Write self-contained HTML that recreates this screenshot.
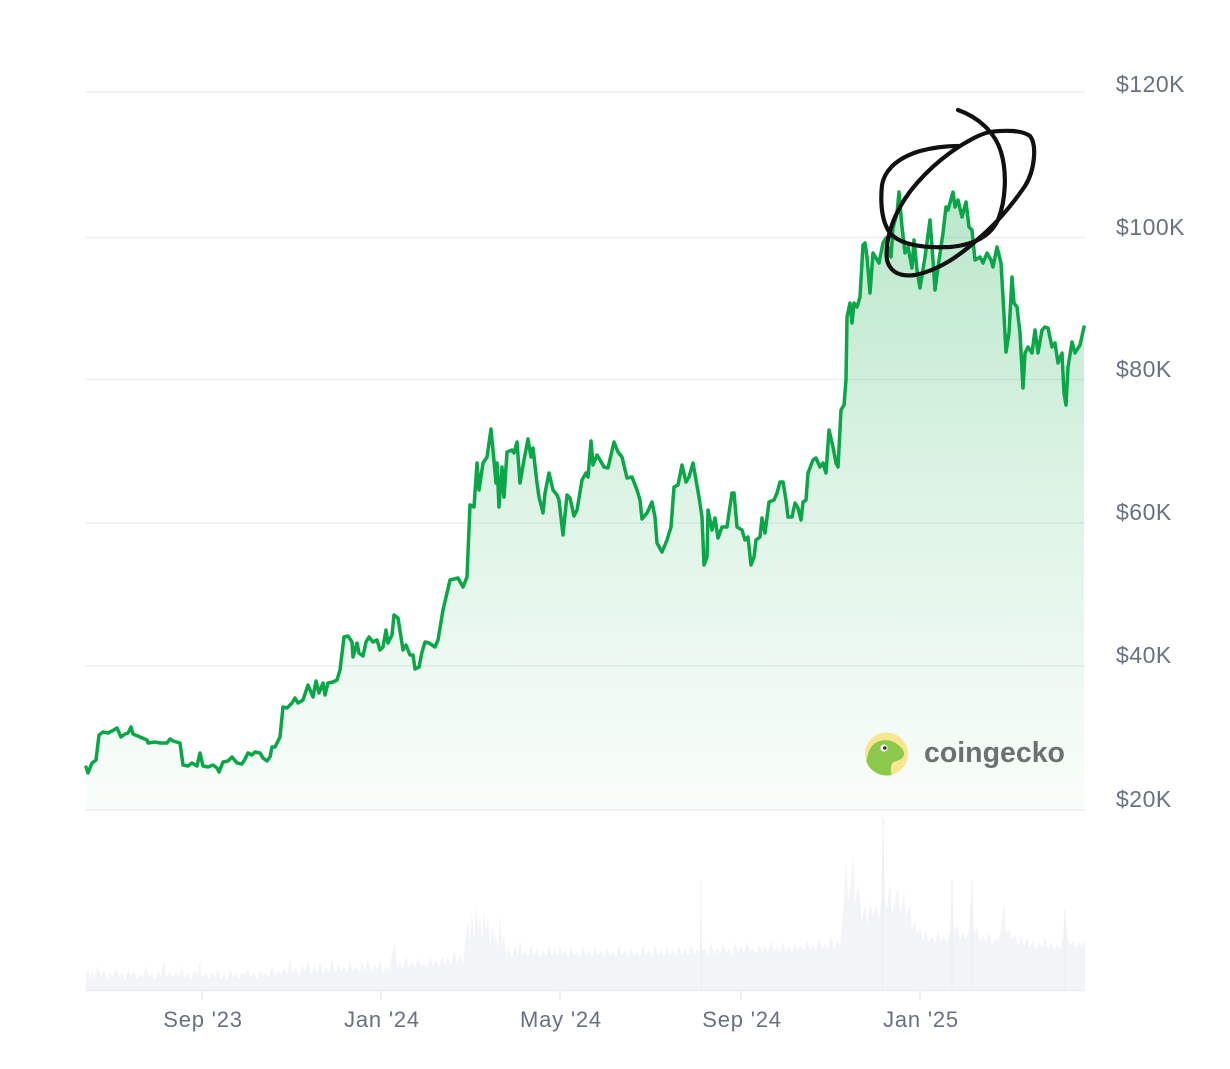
<!DOCTYPE html>
<html>
<head>
<meta charset="utf-8">
<style>
html,body{margin:0;padding:0;background:#ffffff;}
body{width:1230px;height:1069px;overflow:hidden;}
svg{display:block;}
.yl{font-family:"Liberation Sans",Arial,sans-serif;font-size:23px;fill:#687083;letter-spacing:0.5px;}
.xl{font-family:"Liberation Sans",Arial,sans-serif;font-size:22px;fill:#687083;letter-spacing:0.8px;}
</style>
</head>
<body>
<svg width="1230" height="1069" viewBox="0 0 1230 1069" xmlns="http://www.w3.org/2000/svg">
<defs>
<linearGradient id="g" x1="0" y1="190" x2="0" y2="810" gradientUnits="userSpaceOnUse">
<stop offset="0" stop-color="#00a83e" stop-opacity="0.27"/>
<stop offset="0.5" stop-color="#00a83e" stop-opacity="0.13"/>
<stop offset="1" stop-color="#00a83e" stop-opacity="0.02"/>
</linearGradient>
<clipPath id="cc"><circle cx="886.5" cy="754" r="21.5"/></clipPath>
</defs>

<!-- gridlines -->
<g stroke="#eeeff1" stroke-width="1.6">
<line x1="85" y1="92" x2="1085" y2="92"/>
<line x1="85" y1="237.5" x2="1085" y2="237.5"/>
<line x1="85" y1="379.5" x2="1085" y2="379.5"/>
<line x1="85" y1="523" x2="1085" y2="523"/>
<line x1="85" y1="666" x2="1085" y2="666"/>
<line x1="85" y1="810" x2="1085" y2="810"/>
</g>

<!-- volume -->
<polygon fill="#f3f4f7" points="86,990 86,975 88,968 90,980 92,972 95,978 98,966 101,976 104,970 107,979 110,972 113,977 116,968 119,978 122,973 125,980 128,970 131,976 134,972 137,979 140,974 143,977 146,966 149,978 152,973 155,980 158,972 161,976 164,960 166,978 170,971 173,978 176,972 179,977 182,966 184,978 188,973 191,980 194,971 197,975 200,962 202,978 206,973 209,979 212,972 215,977 218,970 221,979 224,974 227,980 230,970 233,977 236,974 239,979 242,972 245,976 248,968 251,978 254,972 257,979 260,970 263,976 266,973 269,978 272,966 275,975 278,970 281,976 284,968 287,975 290,958 292,974 296,968 299,976 302,965 305,973 308,960 311,975 314,966 317,973 320,962 323,974 326,967 329,972 332,958 335,973 338,964 341,971 344,966 347,974 350,960 353,972 356,966 359,973 362,963 365,971 368,958 371,972 374,964 377,970 380,960 383,973 386,966 389,970 392,955 395,943 397,968 400,962 403,970 406,956 409,968 412,962 415,969 418,958 421,967 424,963 427,970 430,955 433,966 436,960 439,968 442,956 445,966 448,957 451,965 454,950 457,963 460,955 463,962 466,935 468,920 470,945 472,910 474,938 476,905 478,930 480,915 482,940 484,910 486,930 488,918 490,945 492,925 494,940 496,935 498,950 500,915 502,945 504,935 506,955 509,948 512,958 515,946 518,956 520,940 522,955 525,950 528,958 531,946 534,956 537,948 540,958 543,950 546,957 549,944 552,956 555,950 558,957 560,945 562,955 565,950 568,958 571,948 574,956 577,952 580,958 583,946 586,955 589,950 592,958 595,948 598,956 601,950 604,957 607,947 610,956 613,952 616,958 619,946 622,955 625,950 628,957 631,948 634,956 637,952 640,957 643,945 646,955 649,950 652,957 655,944 658,955 661,950 664,957 667,948 670,955 673,950 676,956 679,946 682,955 685,948 688,956 691,945 694,954 697,950 700,952 701,880 702,952 705,948 708,955 711,942 714,954 717,948 720,955 723,944 726,953 729,948 732,955 735,942 738,953 741,946 744,954 747,942 750,952 753,947 756,954 759,944 762,952 765,946 768,953 771,940 774,952 777,947 780,953 783,942 786,952 789,946 792,953 795,944 798,950 801,945 804,952 807,940 810,950 813,945 816,952 819,938 822,950 825,944 828,950 831,936 834,948 837,940 840,945 843,915 846,860 848,900 850,890 853,855 855,905 858,885 860,900 862,920 865,905 868,925 870,900 873,918 876,905 879,920 881,900 883,818 885,900 887,910 890,880 892,915 895,900 898,887 900,915 902,905 904,890 906,918 908,910 910,905 912,930 915,920 917,935 920,928 923,940 926,930 929,942 932,935 935,945 938,930 941,942 944,936 947,944 950,930 952,880 954,935 957,925 960,940 963,932 966,940 969,930 972,880 974,935 977,928 980,942 983,935 986,944 989,932 992,945 995,938 998,942 1001,930 1004,903 1006,935 1009,928 1012,940 1015,934 1018,945 1021,936 1024,946 1027,938 1030,948 1033,940 1036,950 1039,942 1042,948 1045,938 1048,950 1051,942 1054,950 1057,944 1060,950 1063,935 1065,910 1067,935 1070,945 1073,940 1076,948 1079,942 1082,946 1085,940 1085,990"/>
<g stroke="#eaecef" stroke-width="1">
<line x1="701" y1="990" x2="701" y2="880"/>
<line x1="883" y1="990" x2="883" y2="818"/>
<line x1="952" y1="990" x2="952" y2="880"/>
<line x1="972" y1="990" x2="972" y2="880"/>
<line x1="1065" y1="990" x2="1065" y2="910"/>
</g>
<line x1="85" y1="990.5" x2="1085" y2="990.5" stroke="#eceef1" stroke-width="1.5"/>

<!-- ticks -->
<g stroke="#e3e5e9" stroke-width="1.2">
<line x1="202" y1="991" x2="202" y2="1000"/>
<line x1="381" y1="991" x2="381" y2="1000"/>
<line x1="560" y1="991" x2="560" y2="1000"/>
<line x1="741" y1="991" x2="741" y2="1000"/>
<line x1="920" y1="991" x2="920" y2="1000"/>
</g>

<!-- area fill -->
<polygon fill="url(#g)" points="86,810 86,767 88,773 92,763 96,760 99,735 103,732 108,733 112,731 117,728 121,737 125,734 128,733 131,727 133,734 140,737 147,740 148,743 155,742 160,743 167,743 170,739 173,741 180,743 183,765 188,766 192,763 197,766 200,753 203,766 208,767 213,765 217,768 219,772 223,762 228,761 232,757 237,763 242,764 245,759 248,753 252,755 255,752 260,753 263,758 267,761 270,757 272,747 275,747 280,737 283,707 287,708 292,703 295,698 298,703 303,700 308,685 313,697 316,681 319,693 323,683 325,695 328,683 333,682 337,680 340,670 344,637 348,636 352,642 353,657 357,643 359,653 363,656 366,642 369,637 373,642 377,640 380,650 383,647 386,630 388,643 392,635 394,615 398,618 401,637 403,650 406,645 410,655 413,655 415,669 419,667 422,652 425,642 429,643 435,647 438,640 443,610 447,593 450,580 458,578 463,587 467,577 470,505 474,507 477,463 479,490 483,463 487,457 491,429 493,450 496,483 497,463 499,507 502,467 504,497 507,452 512,450 514,453 517,442 520,483 524,460 528,439 531,457 533,448 537,483 539,497 543,513 545,493 549,473 553,490 557,495 559,500 563,535 567,495 570,498 574,516 577,510 582,480 586,473 588,477 591,441 593,465 597,455 600,460 604,467 608,468 614,442 618,452 622,457 627,478 632,477 637,490 640,500 642,519 647,513 652,502 655,517 657,543 662,552 667,540 671,527 674,487 678,485 682,465 686,482 689,477 693,463 696,480 699,497 702,517 704,565 707,557 708,510 712,530 715,518 718,538 722,527 727,527 729,513 732,493 734,493 737,527 742,530 745,540 748,537 751,565 754,557 756,540 760,537 762,518 765,533 769,502 774,500 777,493 780,482 783,482 786,500 788,517 792,517 795,503 798,508 801,520 803,502 806,500 808,473 813,460 816,458 820,467 823,463 826,473 829,430 833,447 836,463 838,467 841,410 844,405 846,380 847,317 850,303 852,323 854,303 857,307 860,297 863,245 865,243 867,257 870,293 873,253 876,258 879,263 883,243 886,238 888,247 891,257 893,228 897,213 899,192 902,227 905,253 908,247 912,268 914,240 917,270 920,288 925,257 930,220 933,260 935,290 938,267 943,233 946,207 948,210 953,192 955,207 958,200 962,217 966,202 969,227 972,230 975,260 980,257 983,263 987,253 991,260 993,267 997,247 1001,263 1003,297 1006,352 1009,333 1012,277 1014,303 1017,307 1020,333 1023,388 1025,353 1028,347 1032,353 1035,330 1038,353 1042,330 1045,327 1048,328 1052,347 1055,343 1058,363 1062,353 1064,393 1066,405 1068,367 1072,342 1075,353 1080,345 1084,327 1084,810"/>

<!-- price line -->
<polyline fill="none" stroke="#0aa648" stroke-width="3.5" stroke-linejoin="round" stroke-linecap="round" points="86,767 88,773 92,763 96,760 99,735 103,732 108,733 112,731 117,728 121,737 125,734 128,733 131,727 133,734 140,737 147,740 148,743 155,742 160,743 167,743 170,739 173,741 180,743 183,765 188,766 192,763 197,766 200,753 203,766 208,767 213,765 217,768 219,772 223,762 228,761 232,757 237,763 242,764 245,759 248,753 252,755 255,752 260,753 263,758 267,761 270,757 272,747 275,747 280,737 283,707 287,708 292,703 295,698 298,703 303,700 308,685 313,697 316,681 319,693 323,683 325,695 328,683 333,682 337,680 340,670 344,637 348,636 352,642 353,657 357,643 359,653 363,656 366,642 369,637 373,642 377,640 380,650 383,647 386,630 388,643 392,635 394,615 398,618 401,637 403,650 406,645 410,655 413,655 415,669 419,667 422,652 425,642 429,643 435,647 438,640 443,610 447,593 450,580 458,578 463,587 467,577 470,505 474,507 477,463 479,490 483,463 487,457 491,429 493,450 496,483 497,463 499,507 502,467 504,497 507,452 512,450 514,453 517,442 520,483 524,460 528,439 531,457 533,448 537,483 539,497 543,513 545,493 549,473 553,490 557,495 559,500 563,535 567,495 570,498 574,516 577,510 582,480 586,473 588,477 591,441 593,465 597,455 600,460 604,467 608,468 614,442 618,452 622,457 627,478 632,477 637,490 640,500 642,519 647,513 652,502 655,517 657,543 662,552 667,540 671,527 674,487 678,485 682,465 686,482 689,477 693,463 696,480 699,497 702,517 704,565 707,557 708,510 712,530 715,518 718,538 722,527 727,527 729,513 732,493 734,493 737,527 742,530 745,540 748,537 751,565 754,557 756,540 760,537 762,518 765,533 769,502 774,500 777,493 780,482 783,482 786,500 788,517 792,517 795,503 798,508 801,520 803,502 806,500 808,473 813,460 816,458 820,467 823,463 826,473 829,430 833,447 836,463 838,467 841,410 844,405 846,380 847,317 850,303 852,323 854,303 857,307 860,297 863,245 865,243 867,257 870,293 873,253 876,258 879,263 883,243 886,238 888,247 891,257 893,228 897,213 899,192 902,227 905,253 908,247 912,268 914,240 917,270 920,288 925,257 930,220 933,260 935,290 938,267 943,233 946,207 948,210 953,192 955,207 958,200 962,217 966,202 969,227 972,230 975,260 980,257 983,263 987,253 991,260 993,267 997,247 1001,263 1003,297 1006,352 1009,333 1012,277 1014,303 1017,307 1020,333 1023,388 1025,353 1028,347 1032,353 1035,330 1038,353 1042,330 1045,327 1048,328 1052,347 1055,343 1058,363 1062,353 1064,393 1066,405 1068,367 1072,342 1075,353 1080,345 1084,327"/>

<!-- coingecko watermark -->
<circle cx="886.5" cy="754" r="21.5" fill="#f8e68f"/>
<g clip-path="url(#cc)">
<path d="M866,778 C865,764 867,750 874,744 C880,739 891,739 897,744 C901,747 905,751 904,755 C903,759 898,761 893,762 C890,767 890,772 893,778 Z" fill="#8cc84b"/>
</g>
<circle cx="884" cy="748" r="3.6" fill="#ffffff"/>
<circle cx="884.8" cy="748" r="1.8" fill="#333333"/>
<text x="924" y="762" font-family="'Liberation Sans',Arial,sans-serif" font-weight="bold" font-size="28.5" fill="#6f7070">coingecko</text>

<!-- y labels -->
<text class="yl" x="1116" y="92">$120K</text>
<text class="yl" x="1116" y="235">$100K</text>
<text class="yl" x="1116" y="377">$80K</text>
<text class="yl" x="1116" y="520">$60K</text>
<text class="yl" x="1116" y="663">$40K</text>
<text class="yl" x="1116" y="807">$20K</text>

<!-- x labels -->
<text class="xl" x="203" y="1027" text-anchor="middle">Sep '23</text>
<text class="xl" x="382" y="1027" text-anchor="middle">Jan '24</text>
<text class="xl" x="561" y="1027" text-anchor="middle">May '24</text>
<text class="xl" x="742" y="1027" text-anchor="middle">Sep '24</text>
<text class="xl" x="921" y="1027" text-anchor="middle">Jan '25</text>

<!-- hand-drawn annotation -->
<g fill="none" stroke="#111111" stroke-width="4.2" stroke-linecap="round" stroke-linejoin="round">
<path d="M958,110 C978,117 995,132 1001,152 C1007,172 1006,200 998,220 C990,237 972,245 950,247 C928,248 905,246 893,236 C882,226 880,205 882,185 C885,168 900,157 920,151 C935,147 948,146 958,146"/>
<path d="M990,132 C1005,130 1022,130 1030,136 C1037,145 1035,170 1025,186 C1012,205 995,225 977,240 C960,255 940,270 915,275 C900,277 890,272 887,260 C885,245 890,225 900,207 C912,185 935,162 960,146 C970,140 980,134 990,132"/>
</g>
</svg>
</body>
</html>
